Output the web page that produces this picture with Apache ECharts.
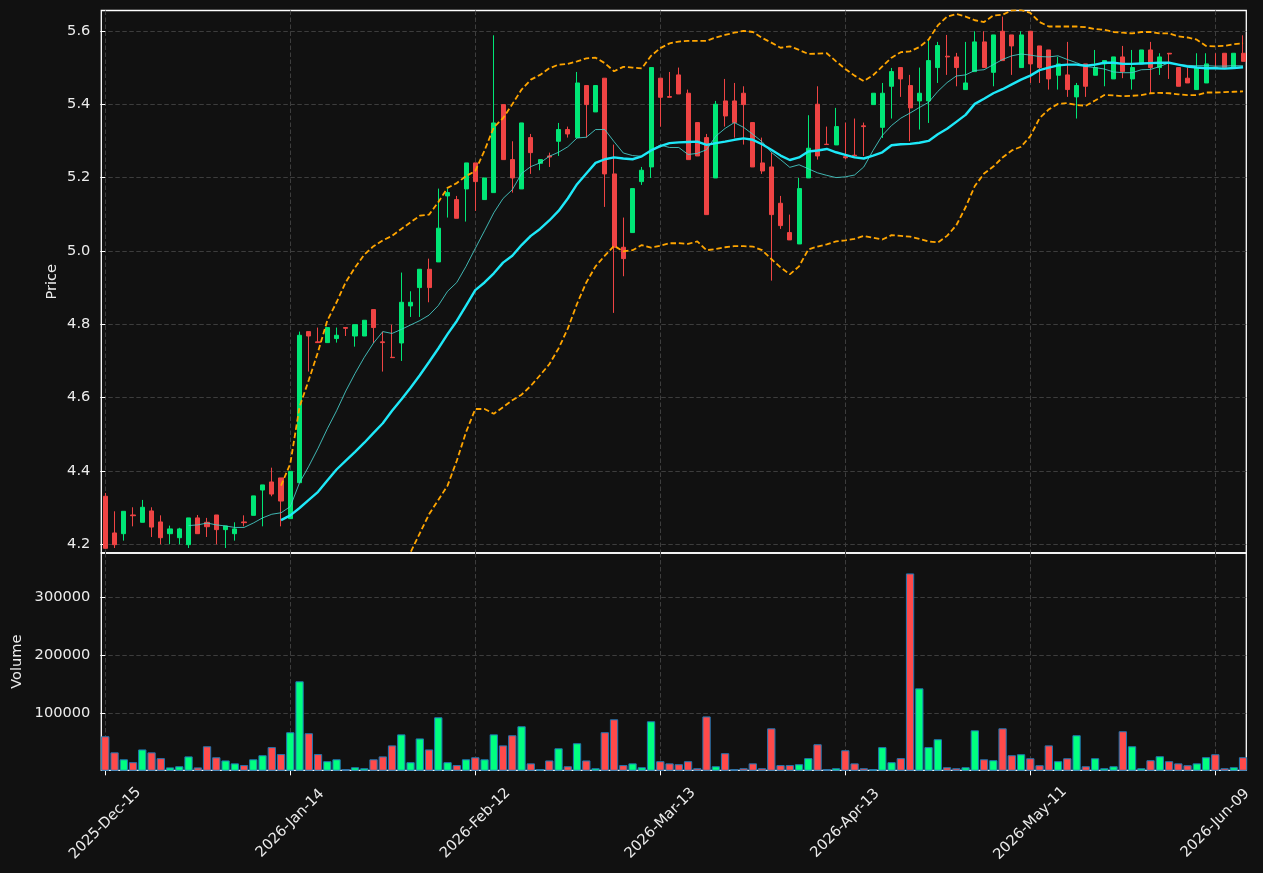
<!DOCTYPE html>
<html>
<head>
<meta charset="utf-8">
<script src="https://cdn.jsdelivr.net/npm/echarts@6/dist/echarts.min.js"></script>
<style>
html,body{margin:0;padding:0;background:#111111;}
#chart{width:1263px;height:873px;}
</style>
</head>
<body>
<div id="chart"></div>
<script>
// ---------- data ----------
const tickIdx = [0, 20, 40, 60, 80, 100, 120];
const tickLabels = ['2025-Dec-15', '2026-Jan-14', '2026-Feb-12', '2026-Mar-13', '2026-Apr-13', '2026-May-11', '2026-Jun-09'];
const priceTicks = [4.2, 4.4, 4.6, 4.8, 5.0, 5.2, 5.4, 5.6];
const volumeTicks = [100000, 200000, 300000];

const open = [
  4.331, 4.231, 4.229, 4.280, 4.260, 4.291, 4.261, 4.229, 4.218, 4.199,
  4.272, 4.260, 4.280, 4.240, 4.229, 4.261, 4.279, 4.348, 4.370, 4.381,
  4.270, 4.368, 4.780, 4.752, 4.750, 4.761, 4.791, 4.768, 4.768, 4.840,
  4.752, 4.710, 4.749, 4.850, 4.900, 4.950, 4.970, 5.150, 5.140, 5.169,
  5.240, 5.140, 5.159, 5.399, 5.249, 5.169, 5.309, 5.239, 5.259, 5.299,
  5.331, 5.309, 5.451, 5.379, 5.471, 5.210, 5.010, 5.050, 5.189, 5.229,
  5.471, 5.421, 5.480, 5.430, 5.350, 5.309, 5.199, 5.409, 5.409, 5.430,
  5.350, 5.240, 5.229, 5.130, 5.050, 5.019, 5.199, 5.400, 5.291, 5.289,
  5.257, 5.261, 5.341, 5.399, 5.337, 5.449, 5.500, 5.451, 5.409, 5.409,
  5.500, 5.531, 5.529, 5.440, 5.489, 5.570, 5.487, 5.599, 5.589, 5.500,
  5.599, 5.559, 5.548, 5.479, 5.480, 5.420, 5.510, 5.479, 5.510, 5.469,
  5.529, 5.469, 5.510, 5.548, 5.500, 5.539, 5.500, 5.471, 5.440, 5.458,
  5.501, 5.539, 5.500, 5.539
];
const close = [
  4.189, 4.199, 4.290, 4.278, 4.301, 4.247, 4.218, 4.242, 4.242, 4.272,
  4.229, 4.248, 4.240, 4.250, 4.242, 4.259, 4.332, 4.362, 4.337, 4.318,
  4.399, 4.770, 4.768, 4.750, 4.791, 4.770, 4.789, 4.799, 4.811, 4.791,
  4.750, 4.709, 4.860, 4.860, 4.950, 4.900, 5.062, 5.159, 5.089, 5.240,
  5.189, 5.199, 5.349, 5.249, 5.199, 5.349, 5.268, 5.249, 5.256, 5.331,
  5.319, 5.458, 5.399, 5.451, 5.210, 5.010, 4.979, 5.170, 5.220, 5.500,
  5.419, 5.419, 5.428, 5.249, 5.259, 5.099, 5.400, 5.368, 5.350, 5.399,
  5.229, 5.218, 5.099, 5.069, 5.030, 5.170, 5.280, 5.259, 5.290, 5.339,
  5.254, 5.259, 5.339, 5.430, 5.430, 5.489, 5.469, 5.390, 5.430, 5.519,
  5.560, 5.529, 5.500, 5.458, 5.570, 5.500, 5.589, 5.519, 5.559, 5.589,
  5.510, 5.500, 5.469, 5.510, 5.440, 5.451, 5.449, 5.500, 5.519, 5.529,
  5.489, 5.500, 5.548, 5.500, 5.529, 5.537, 5.449, 5.458, 5.500, 5.510,
  5.500, 5.500, 5.539, 5.517
];
const low = [
  4.188, 4.190, 4.210, 4.249, 4.260, 4.220, 4.200, 4.200, 4.200, 4.190,
  4.229, 4.220, 4.200, 4.190, 4.210, 4.249, 4.279, 4.249, 4.331, 4.249,
  4.270, 4.368, 4.671, 4.750, 4.750, 4.750, 4.768, 4.739, 4.768, 4.749,
  4.671, 4.709, 4.700, 4.820, 4.820, 4.860, 4.970, 5.091, 5.089, 5.080,
  5.109, 5.140, 5.159, 5.249, 5.159, 5.169, 5.210, 5.220, 5.229, 5.259,
  5.309, 5.309, 5.309, 5.379, 5.120, 4.831, 4.931, 5.050, 5.180, 5.199,
  5.339, 5.419, 5.428, 5.249, 5.259, 5.099, 5.199, 5.339, 5.309, 5.290,
  5.229, 5.210, 4.919, 5.060, 5.030, 5.019, 5.199, 5.249, 5.290, 5.289,
  5.250, 5.259, 5.259, 5.399, 5.308, 5.361, 5.420, 5.299, 5.331, 5.349,
  5.458, 5.480, 5.449, 5.440, 5.489, 5.500, 5.449, 5.519, 5.480, 5.500,
  5.458, 5.458, 5.440, 5.440, 5.420, 5.361, 5.420, 5.479, 5.449, 5.469,
  5.471, 5.440, 5.510, 5.430, 5.480, 5.469, 5.449, 5.458, 5.440, 5.458,
  5.500, 5.500, 5.500, 5.517
];
const high = [
  4.340, 4.290, 4.290, 4.301, 4.321, 4.301, 4.279, 4.251, 4.245, 4.272,
  4.280, 4.272, 4.280, 4.250, 4.260, 4.279, 4.332, 4.362, 4.409, 4.381,
  4.399, 4.780, 4.780, 4.791, 4.791, 4.791, 4.791, 4.799, 4.811, 4.840,
  4.780, 4.799, 4.941, 4.890, 4.950, 4.979, 5.170, 5.170, 5.150, 5.240,
  5.240, 5.199, 5.588, 5.399, 5.299, 5.349, 5.319, 5.249, 5.268, 5.349,
  5.339, 5.488, 5.451, 5.451, 5.471, 5.290, 5.091, 5.170, 5.229, 5.500,
  5.471, 5.488, 5.500, 5.440, 5.350, 5.319, 5.409, 5.469, 5.458, 5.449,
  5.350, 5.309, 5.268, 5.150, 5.099, 5.199, 5.370, 5.449, 5.339, 5.390,
  5.350, 5.361, 5.350, 5.430, 5.458, 5.499, 5.500, 5.480, 5.500, 5.576,
  5.570, 5.589, 5.540, 5.570, 5.599, 5.599, 5.589, 5.639, 5.589, 5.599,
  5.600, 5.559, 5.548, 5.529, 5.570, 5.458, 5.510, 5.548, 5.519, 5.529,
  5.559, 5.548, 5.548, 5.570, 5.539, 5.539, 5.500, 5.500, 5.539, 5.539,
  5.539, 5.539, 5.539, 5.588
];
const volume = [
  59800, 32000, 20000, 15000, 37000, 32000, 22000, 6000, 8000, 25000,
  6000, 42500, 23500, 18000, 13000, 10000, 20000, 27000, 41000, 29000,
  66700, 154600, 65000, 29000, 16700, 20000, 3000, 6300, 4600, 20000,
  25000, 44000, 63000, 15000, 56000, 37000, 92500, 15000, 10000, 20000,
  23500, 20000, 63000, 44000, 61500, 77000, 13000, 3000, 18000, 39000,
  8000, 47700, 18000, 4600, 66700, 89000, 10000, 13000, 6300, 85600,
  16700, 13000, 11500, 16700, 4600, 94000, 8000, 30500, 2900, 4600,
  13000, 4600, 73500, 10000, 10000, 11500, 22000, 46000, 2900, 4600,
  35600, 13000, 4600, 2900, 41000, 15000, 22000, 340800, 142500, 41000,
  54600, 6300, 4600, 6300, 70000, 20000, 18400, 73500, 27000, 28700,
  21800, 9800, 44000, 16700, 21800, 61500, 8000, 21800, 4600, 8000,
  68400, 42500, 4600, 18400, 25300, 16700, 13000, 9800, 13000, 23600,
  28700, 4600, 6300, 23600
];

// thin moving average (starts at index 9)
const ma10Start = 9;
const ma10 = [
  4.251, 4.253, 4.258, 4.253, 4.250, 4.246, 4.246, 4.258, 4.272, 4.282,
  4.286, 4.303, 4.368, 4.413, 4.462, 4.515, 4.564, 4.618, 4.666, 4.710,
  4.749, 4.780, 4.775, 4.786, 4.798, 4.810, 4.825, 4.851, 4.890, 4.914,
  4.958, 5.007, 5.055, 5.104, 5.143, 5.167, 5.211, 5.230, 5.240, 5.258,
  5.269, 5.284, 5.308, 5.310, 5.331, 5.331, 5.298, 5.267, 5.260, 5.258,
  5.274, 5.289, 5.282, 5.282, 5.263, 5.266, 5.276, 5.313, 5.334, 5.350,
  5.337, 5.318, 5.298, 5.269, 5.249, 5.228, 5.235, 5.224, 5.213, 5.206,
  5.200, 5.202, 5.207, 5.229, 5.274, 5.315, 5.342, 5.362, 5.376, 5.391,
  5.405, 5.435, 5.459, 5.477, 5.480, 5.492, 5.494, 5.508, 5.522, 5.532,
  5.537, 5.534, 5.530, 5.529, 5.532, 5.522, 5.513, 5.503, 5.500, 5.496,
  5.488, 5.486, 5.486, 5.494, 5.495, 5.503, 5.513, 5.508, 5.506, 5.505,
  5.505, 5.504, 5.504, 5.505, 5.505
];

// thick moving average (starts at index 19)
const ma20Start = 19;
const ma20 = [
  4.266, 4.279, 4.299, 4.321, 4.343, 4.374, 4.404, 4.428, 4.452, 4.477,
  4.504, 4.530, 4.564, 4.595, 4.627, 4.661, 4.697, 4.734, 4.773, 4.809,
  4.851, 4.893, 4.914, 4.939, 4.968, 4.987, 5.016, 5.041, 5.060, 5.083,
  5.109, 5.143, 5.182, 5.211, 5.240, 5.250, 5.255, 5.252, 5.250, 5.258,
  5.274, 5.286, 5.294, 5.296, 5.297, 5.298, 5.289, 5.294, 5.298, 5.303,
  5.307, 5.303, 5.291, 5.276, 5.260, 5.248, 5.255, 5.271, 5.274, 5.278,
  5.269, 5.262, 5.255, 5.252, 5.260, 5.269, 5.288, 5.291, 5.292, 5.295,
  5.300, 5.318, 5.333, 5.352, 5.371, 5.401, 5.415, 5.430, 5.441, 5.454,
  5.467, 5.478, 5.493, 5.500, 5.506, 5.508, 5.508, 5.505, 5.508, 5.513,
  5.513, 5.510, 5.510, 5.511, 5.512, 5.513, 5.513, 5.508, 5.503, 5.500,
  5.498, 5.498, 5.497, 5.499, 5.501
];

// bands (start at index 19)
const bandStart = 19;
const bandUpper = [
  4.360, 4.420, 4.575, 4.648, 4.725, 4.810, 4.860, 4.915, 4.955, 4.990,
  5.013, 5.029, 5.041, 5.060, 5.078, 5.096, 5.099, 5.133, 5.172, 5.185,
  5.204, 5.218, 5.274, 5.337, 5.362, 5.400, 5.440, 5.467, 5.480, 5.498,
  5.508, 5.510, 5.517, 5.525, 5.527, 5.512, 5.490, 5.502, 5.500, 5.498,
  5.532, 5.553, 5.566, 5.571, 5.573, 5.573, 5.573, 5.582, 5.589, 5.595,
  5.600, 5.597, 5.581, 5.568, 5.554, 5.558, 5.548, 5.537, 5.538, 5.539,
  5.517, 5.496, 5.478, 5.463, 5.479, 5.503, 5.527, 5.542, 5.544, 5.556,
  5.576, 5.615, 5.639, 5.646, 5.639, 5.629, 5.624, 5.642, 5.644, 5.656,
  5.657, 5.649, 5.624, 5.612, 5.612, 5.612, 5.612, 5.610, 5.605, 5.603,
  5.597, 5.595, 5.593, 5.597, 5.597, 5.593, 5.593, 5.585, 5.582, 5.576,
  5.559, 5.558, 5.559, 5.564, 5.566
];
const bandLower = [
  4.172, 4.138, 4.023, 3.994, 3.961, 3.939, 3.947, 3.941, 3.949, 3.963,
  3.994, 4.031, 4.087, 4.130, 4.178, 4.230, 4.282, 4.321, 4.360, 4.428,
  4.506, 4.569, 4.569, 4.556, 4.574, 4.593, 4.608, 4.632, 4.661, 4.691,
  4.734, 4.788, 4.856, 4.914, 4.958, 4.987, 5.014, 4.999, 5.002, 5.016,
  5.009, 5.014, 5.021, 5.021, 5.019, 5.026, 5.002, 5.005, 5.010, 5.013,
  5.013, 5.012, 5.002, 4.978, 4.955, 4.936, 4.958, 5.004, 5.012, 5.018,
  5.026, 5.029, 5.033, 5.041, 5.036, 5.031, 5.043, 5.041, 5.039, 5.033,
  5.026, 5.023, 5.041, 5.070, 5.119, 5.177, 5.211, 5.230, 5.255, 5.274,
  5.284, 5.313, 5.362, 5.386, 5.401, 5.403, 5.398, 5.396, 5.410, 5.425,
  5.424, 5.422, 5.423, 5.425, 5.430, 5.431, 5.430, 5.427, 5.425, 5.425,
  5.432, 5.432, 5.433, 5.434, 5.435
];

// ---------- build ----------
const UP = '#00e676', DOWN = '#ef4444';
const VUP = '#00ff80', VDOWN = '#ff4a4a';
const FONT = 'DejaVu Sans';
const LABEL = '#ececec';
const FS = 14.6;

const candleData = open.map((o, i) => [i, o, close[i], low[i], high[i]]);
const volData = volume.map((v, i) => ({
  value: [i, v],
  itemStyle: { color: close[i] >= open[i] ? VUP : VDOWN }
}));
const toPairs = (arr, start) => arr.map((v, k) => [start + k, v]);

const X_MIN = -0.432, X_MAX = 123.35;
const gridLine = { show: true, lineStyle: { color: '#3d3d3d', width: 1, type: [4.5, 2.5] } };

const xBase = {
  type: 'value', min: X_MIN, max: X_MAX,
  axisLine: { show: false },
  splitLine: gridLine
};

const option = {
  backgroundColor: '#111111',
  animation: false,
  textStyle: { fontFamily: FONT },
  grid: [
    { left: 101.3, top: 10.5, width: 1145, height: 542.5, show: true, borderColor: '#ffffff', borderWidth: 1.3, backgroundColor: 'transparent' },
    { left: 101.3, top: 553, width: 1145, height: 217.3, show: true, borderColor: '#ffffff', borderWidth: 1.3, backgroundColor: 'transparent' }
  ],
  xAxis: [
    Object.assign({}, xBase, {
      gridIndex: 0,
      axisTick: { show: false, customValues: tickIdx },
      axisLabel: { show: false, customValues: tickIdx }
    }),
    Object.assign({}, xBase, {
      gridIndex: 1,
      axisTick: { show: true, customValues: tickIdx, length: 5, lineStyle: { color: '#ffffff', width: 1 } },
      axisLabel: {
        show: true, customValues: tickIdx, rotate: 45, align: 'center', verticalAlign: 'middle',
        margin: 53, color: LABEL, fontSize: FS, fontFamily: FONT,
        formatter: v => { const k = tickIdx.indexOf(Math.round(v)); return k >= 0 ? tickLabels[k] : ''; }
      }
    })
  ],
  yAxis: [
    {
      type: 'value', gridIndex: 0, min: 4.1763, max: 5.6556,
      axisLine: { show: false },
      axisTick: { show: true, customValues: priceTicks, length: 5, lineStyle: { color: '#ffffff', width: 1 } },
      axisLabel: { customValues: priceTicks, color: LABEL, fontSize: FS, fontFamily: FONT, margin: 11, formatter: v => v.toFixed(1) },
      splitLine: gridLine,
      name: 'Price', nameLocation: 'middle', nameRotate: 90, nameGap: 42, nameMoveOverlap: false,
      nameTextStyle: { color: LABEL, fontSize: FS, fontFamily: FONT }
    },
    {
      type: 'value', gridIndex: 1, min: 1000, max: 376000,
      axisLine: { show: false },
      axisTick: { show: true, customValues: volumeTicks, length: 5, lineStyle: { color: '#ffffff', width: 1 } },
      axisLabel: { customValues: volumeTicks, color: LABEL, fontSize: FS, fontFamily: FONT, margin: 11, formatter: v => String(Math.round(v)) },
      splitLine: gridLine,
      name: 'Volume', nameLocation: 'middle', nameRotate: 90, nameGap: 77, nameMoveOverlap: false,
      nameTextStyle: { color: LABEL, fontSize: FS, fontFamily: FONT }
    }
  ],
  series: [
    {
      type: 'candlestick', xAxisIndex: 0, yAxisIndex: 0,
      data: candleData, encode: { x: 0, y: [1, 2, 3, 4] },
      barWidth: 4.6,
      itemStyle: { color: UP, color0: DOWN, borderColor: UP, borderColor0: DOWN, borderWidth: 1 }
    },
    {
      type: 'line', xAxisIndex: 0, yAxisIndex: 0, data: toPairs(ma10, ma10Start),
      showSymbol: false, symbol: 'none', lineStyle: { color: 'rgba(72,209,204,0.85)', width: 1 }, z: 3
    },
    {
      type: 'line', xAxisIndex: 0, yAxisIndex: 0, data: toPairs(ma20, ma20Start),
      showSymbol: false, symbol: 'none', lineStyle: { color: '#1ee8f8', width: 2.4 }, z: 3
    },
    {
      type: 'line', xAxisIndex: 0, yAxisIndex: 0, data: toPairs(bandUpper, bandStart),
      showSymbol: false, symbol: 'none', lineStyle: { color: '#ffa500', width: 1.8, type: [5.5, 2.8] }, z: 3
    },
    {
      type: 'line', xAxisIndex: 0, yAxisIndex: 0, data: toPairs(bandLower, bandStart),
      showSymbol: false, symbol: 'none', lineStyle: { color: '#ffa500', width: 1.8, type: [5.5, 2.8] }, z: 3
    },
    {
      type: 'bar', xAxisIndex: 1, yAxisIndex: 1, data: volData,
      barWidth: 8.3,
      itemStyle: { borderColor: '#1f77b4', borderWidth: 1 }
    }
  ]
};

const chart = echarts.init(document.getElementById('chart'), null, { renderer: 'canvas' });
chart.setOption(option);
</script>
</body>
</html>
